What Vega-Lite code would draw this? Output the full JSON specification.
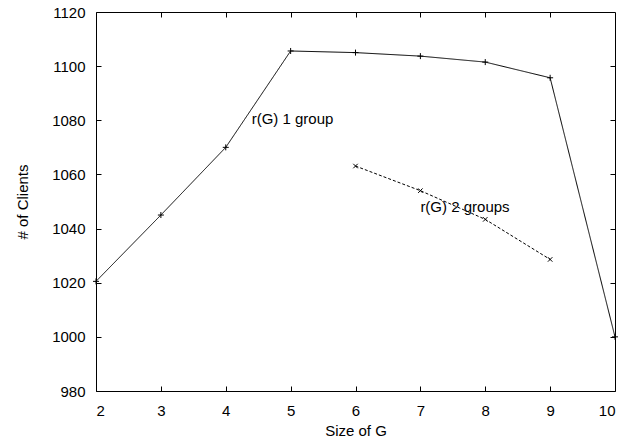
{
  "$schema": "https://vega.github.io/schema/vega-lite/v6.json",
  "autosize": "none",
  "width": 519,
  "height": 379,
  "padding": {"left": 96, "top": 12, "right": 24, "bottom": 51},
  "background": "white",
  "config": {
    "view": {"stroke": "black", "strokeWidth": 1},
    "font": "Liberation Sans",
    "axis": {
      "grid": false,
      "domain": false,
      "ticks": true,
      "tickColor": "black",
      "tickOpacity": 1,
      "labelColor": "black",
      "titleColor": "black",
      "labelFont": "Liberation Sans",
      "titleFont": "Liberation Sans",
      "labelFontSize": 15,
      "titleFontSize": 15,
      "titleFontWeight": "normal",
      "tickSize": 5,
      "tickWidth": 1,
      "offset": -5,
      "zindex": 1
    }
  },
  "datasets": {
    "series": [
      {"g": 2, "clients": 1020.5, "series": "r(G) 1 group"},
      {"g": 3, "clients": 1045, "series": "r(G) 1 group"},
      {"g": 4, "clients": 1070, "series": "r(G) 1 group"},
      {"g": 5, "clients": 1105.6, "series": "r(G) 1 group"},
      {"g": 6, "clients": 1105, "series": "r(G) 1 group"},
      {"g": 7, "clients": 1103.7, "series": "r(G) 1 group"},
      {"g": 8, "clients": 1101.5, "series": "r(G) 1 group"},
      {"g": 9, "clients": 1095.7, "series": "r(G) 1 group"},
      {"g": 10, "clients": 1000, "series": "r(G) 1 group"},
      {"g": 6, "clients": 1063.1, "series": "r(G) 2 groups"},
      {"g": 7, "clients": 1054, "series": "r(G) 2 groups"},
      {"g": 8, "clients": 1043.4, "series": "r(G) 2 groups"},
      {"g": 9, "clients": 1028.6, "series": "r(G) 2 groups"}
    ],
    "labels": [
      {"g": 4.4, "clients": 1080.5, "text": "r(G) 1 group"},
      {"g": 7, "clients": 1048, "text": "r(G) 2 groups"}
    ]
  },
  "encoding": {
    "x": {"field": "g", "type": "quantitative", "scale": {"domain": [2, 10], "nice": false, "zero": false}},
    "y": {"field": "clients", "type": "quantitative", "scale": {"domain": [980, 1120], "nice": false, "zero": false}}
  },
  "layer": [
    {
      "data": {"name": "series"},
      "mark": {"type": "line", "strokeWidth": 1, "color": "black"},
      "encoding": {
        "x": {"field": "g", "type": "quantitative", "axis": {"title": "Size of G", "values": [2,3,4,5,6,7,8,9,10], "format": "d", "labelPadding": 12, "titleX": 259.5, "titleY": 44, "titleBaseline": "middle"}},
        "y": {"field": "clients", "type": "quantitative", "axis": {"title": "# of Clients", "values": [980,1000,1020,1040,1060,1080,1100,1120], "format": "d", "labelPadding": 11, "titleX": -79, "titleY": 189.5, "titleAngle": -90, "titleBaseline": "middle"}},
        "strokeDash": {"field": "series", "type": "nominal", "scale": {"domain": ["r(G) 1 group", "r(G) 2 groups"], "range": [[1, 0], [3, 2]]}, "legend": null}
      }
    },
    {
      "data": {"name": "series"},
      "mark": {"type": "point", "filled": false, "strokeWidth": 1, "color": "black", "opacity": 1},
      "encoding": {
        "x": {"field": "g", "type": "quantitative", "axis": {"orient": "top", "labels": false, "title": null, "values": [3,4,5,6,7,8,9]}},
        "y": {"field": "clients", "type": "quantitative", "axis": {"orient": "right", "labels": false, "title": null, "values": [1000,1020,1040,1060,1080,1100]}},
        "shape": {"field": "series", "type": "nominal", "scale": {"domain": ["r(G) 1 group", "r(G) 2 groups"], "range": ["M-1,0L1,0M0,-1L0,1", "M-0.75,-0.75L0.75,0.75M-0.75,0.75L0.75,-0.75"]}, "legend": null},
        "size": {"value": 36}
      }
    },
    {
      "data": {"name": "labels"},
      "mark": {"type": "text", "align": "left", "baseline": "middle", "fontSize": 15, "font": "Liberation Sans", "color": "black"},
      "encoding": {
        "x": {"field": "g", "type": "quantitative", "axis": null},
        "y": {"field": "clients", "type": "quantitative", "axis": null},
        "text": {"field": "text"}
      }
    }
  ],
  "resolve": {"axis": {"x": "independent", "y": "independent"}}
}
